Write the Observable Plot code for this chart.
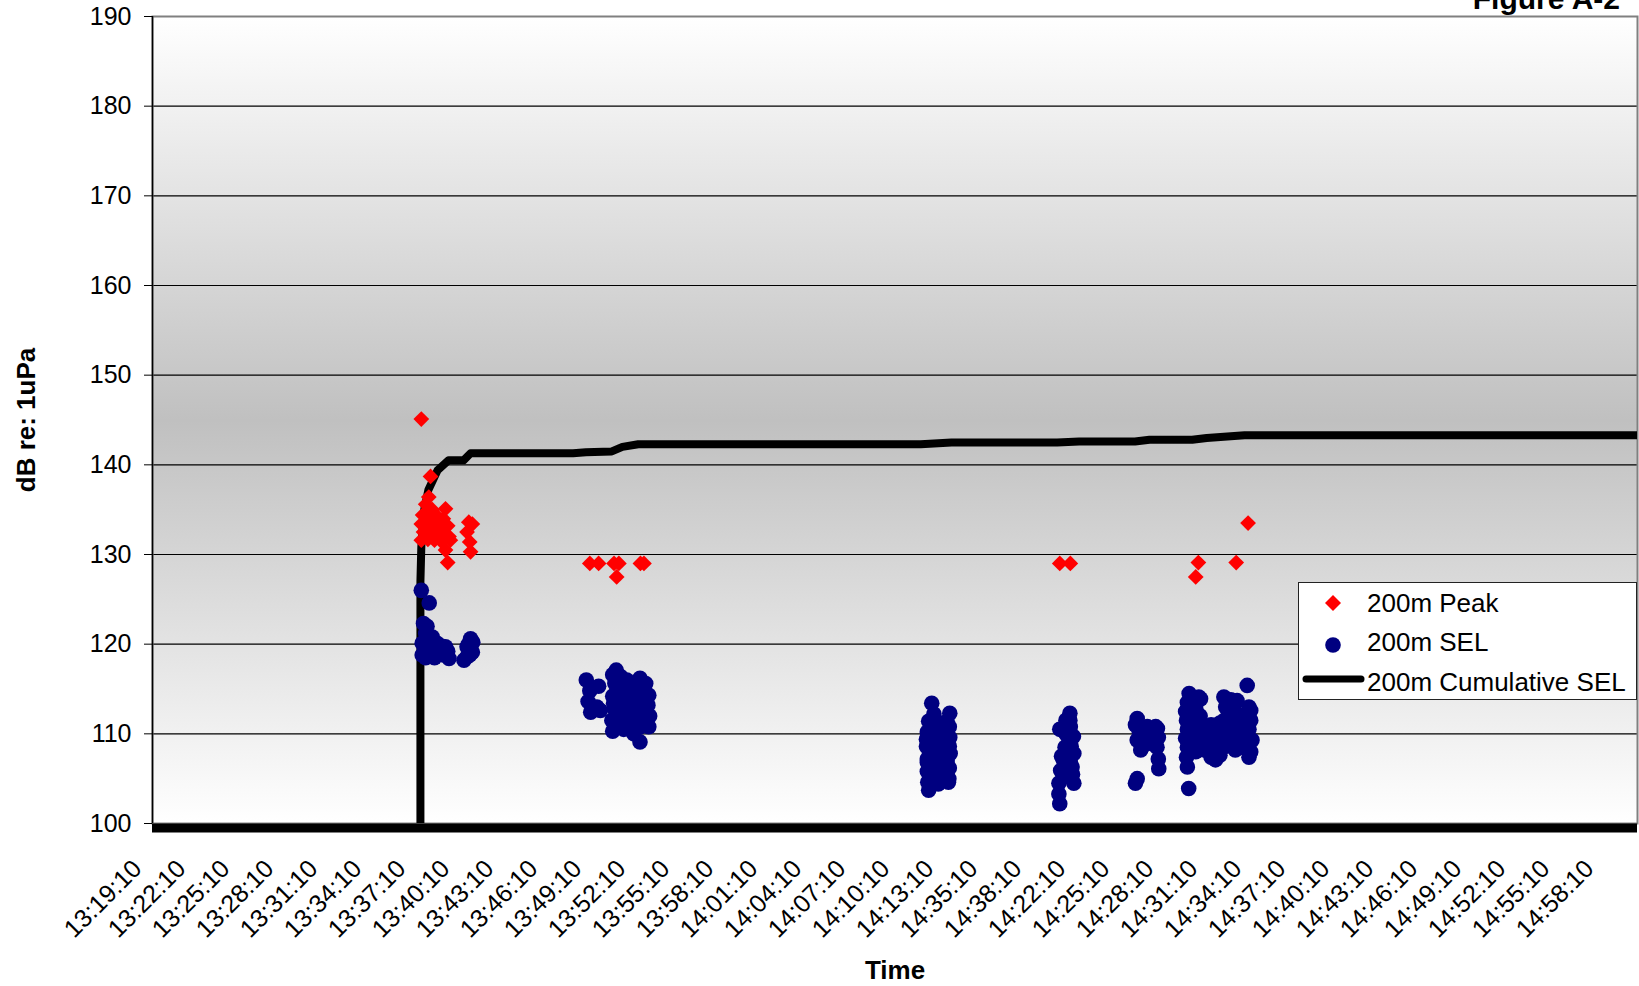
<!DOCTYPE html>
<html><head><meta charset="utf-8">
<script src="https://cdn.jsdelivr.net/npm/d3@7"></script>
<script src="https://cdn.jsdelivr.net/npm/@observablehq/plot@0.6"></script>
<style>
html,body{margin:0;padding:0;background:#fff;overflow:hidden}
#wrap{position:relative;width:1639px;height:986px;font-family:"Liberation Sans",Arial,sans-serif;overflow:hidden}
#fig{position:absolute;right:19px;top:-16px;font-weight:bold;font-size:30px;line-height:30px;white-space:nowrap}
#legend{position:absolute;left:1298px;top:582px;width:339px;height:118px}
</style></head><body><div id="wrap"><div id="fig">Figure A-2</div></div>
<script>
// x tick labels (category axis, every 3 minutes)
const tickLabels = ["13:19:10","13:22:10","13:25:10","13:28:10","13:31:10","13:34:10","13:37:10","13:40:10","13:43:10","13:46:10","13:49:10","13:52:10","13:55:10","13:58:10","14:01:10","14:04:10","14:07:10","14:10:10","14:13:10","14:35:10","14:38:10","14:22:10","14:25:10","14:28:10","14:31:10","14:34:10","14:37:10","14:40:10","14:43:10","14:46:10","14:49:10","14:52:10","14:55:10","14:58:10"];
const yTicks = [100,110,120,130,140,150,160,170,180,190];
const xDomain = [0.341, 34.09]; // in tick-label units

// 200m Peak (x in tick-label units, y in dB)
const peakX = [6.45,6.66,6.62,6.55,6.70,7.00,6.48,6.62,6.80,6.95,6.45,6.58,6.72,6.88,7.05,6.50,6.65,6.80,6.95,7.08,6.45,6.60,6.75,6.90,7.11,7.00,7.05,7.53,7.61,7.49,7.55,7.57,
  10.28,10.48,10.83,10.94,10.89,11.43,11.51,
  20.96,21.20,
  24.11,24.05,24.97,25.24];
const peakY = [145.1,138.7,136.4,135.6,135.0,135.1,134.4,134.2,134.3,134.0,133.4,133.2,133.3,133.4,133.2,132.5,132.3,132.4,132.2,132.0,131.6,131.7,131.6,131.5,131.6,130.5,129.1,133.6,133.4,132.5,131.4,130.3,
  129.0,129.0,129.0,129.0,127.5,129.0,129.0,
  129.0,129.0,
  129.1,127.5,129.1,133.5];

// 200m SEL
const selX = [
  6.45,6.63,6.50,6.58,6.55,6.70,6.47,6.62,6.81,6.90,7.00,6.47,6.60,6.66,6.75,6.89,7.08,6.95,6.55,6.75,7.05,
  7.57,7.52,7.49,7.49,7.61,7.42,7.55,7.62,
  10.20,10.28,10.24,10.30,10.44,10.48,10.52,
  10.80,10.88,10.85,10.80,10.84,10.78,10.80,
  10.98,11.02,11.00,11.05,10.98,
  11.12,11.18,11.14,11.20,11.16,
  11.28,11.30,11.26,11.28,11.32,
  11.42,11.45,11.40,11.44,11.43,11.42,
  11.56,11.60,11.64,11.62,11.55,
  10.90,10.92,11.05,11.10,11.35,11.35,11.50,11.50,11.62,11.20,10.92,10.82,
  18.05,18.46,17.98,18.10,18.40,18.20,17.95,18.08,18.30,18.46,17.93,18.15,18.35,18.47,17.95,18.10,18.28,18.45,17.95,18.12,18.30,18.44,17.96,17.98,18.20,18.43,18.40,18.25,17.93,18.15,
  18.25,18.10,18.35,18.00,18.20,18.45,18.00,18.25,18.40,18.10,18.30,18.05,18.20,18.45,17.95,
  21.19,21.19,20.96,21.27,21.08,21.28,21.04,21.24,20.98,21.28,20.94,20.94,20.96,21.13,21.17,
  21.20,21.10,21.20,21.00,21.05,21.25,21.10,21.22,
  22.72,22.68,22.72,22.80,22.98,23.14,23.17,23.21,22.72,22.68,22.85,23.05,23.20,23.10,23.20,22.90,22.76,23.18,
  22.95,23.05,22.85,
  23.90,23.86,23.82,23.84,23.86,23.82,23.86,23.84,23.86,23.89,
  24.12,24.16,24.05,24.15,24.10,24.20,24.05,24.15,24.05,24.20,
  24.30,24.40,24.46,24.35,24.46,24.40,24.50,24.56,24.60,
  24.69,24.73,24.70,24.80,24.75,24.85,24.72,24.95,24.99,24.92,24.98,24.88,
  25.22,25.26,25.15,25.30,25.26,25.33,25.20,25.26,25.10,25.15,
  23.95,23.95,23.95,24.00,24.30,24.40,24.55,24.60,24.80,24.85,25.00,25.05,25.10,25.30,25.30,24.25,24.60];
const selY = [
  126.0,124.6,122.3,122.0,121.2,120.8,120.1,120.3,120.1,119.8,119.7,118.8,119.2,119.7,119.3,119.1,118.4,118.8,118.5,118.5,119.2,
  120.6,120.0,119.7,118.6,119.1,118.2,118.8,120.2,
  116.0,114.8,113.6,112.4,113.0,115.3,112.6,
  116.6,117.1,115.6,114.2,112.8,111.5,110.3,
  116.4,115.0,113.6,112.2,111.2,
  116.0,114.6,113.2,111.8,110.6,
  115.2,113.8,112.4,110.0,111.3,
  116.2,114.8,113.4,112.0,110.8,109.1,
  114.5,113.2,112.0,110.8,115.6,
  113.5,112.0,110.5,114.0,112.8,115.8,111.5,113.8,114.3,115.5,116.0,113.4,
  113.4,112.3,111.4,112.2,111.4,110.8,110.2,109.6,110.0,109.6,108.6,108.8,108.4,107.8,107.2,107.0,107.2,106.2,105.8,105.6,105.6,105.0,104.6,103.7,104.4,104.6,107.0,109.0,109.4,106.2,
  111.2,110.6,109.8,108.0,107.8,108.6,106.5,106.0,105.8,104.8,104.8,109.0,110.0,110.8,106.8,
  112.3,111.5,110.5,109.7,108.5,107.8,107.1,106.3,105.9,104.5,104.5,103.3,102.2,107.8,109.3,
  110.8,110.0,106.8,107.5,105.2,105.5,111.5,108.6,
  111.7,111.0,109.3,108.2,109.7,110.8,108.5,106.1,105.0,104.5,110.5,110.2,109.6,108.8,107.2,108.8,110.4,110.6,
  110.8,109.0,109.5,
  114.5,113.5,112.5,111.5,110.5,109.5,108.5,107.4,106.3,103.9,
  114.1,113.9,112.8,112.0,111.0,110.4,109.8,109.0,108.0,108.6,
  110.6,111.0,109.8,109.0,108.3,107.4,107.1,108.6,110.2,
  114.1,113.0,111.5,112.4,110.2,109.2,108.6,108.2,113.7,111.0,109.8,113.2,
  115.4,113.0,112.0,111.5,110.5,109.3,108.4,107.4,110.6,109.0,
  112.0,110.0,108.0,114.0,109.8,110.2,109.5,111.2,111.0,113.8,112.2,110.5,108.5,112.6,108.0,108.2,107.6];

// 200m Cumulative SEL (starts from below the axis minimum)
const cumX = [6.43,6.43,6.45,6.50,6.61,6.82,7.07,7.41,7.57,9.90,10.19,10.78,11.02,11.38,17.80,18.50,20.90,21.40,22.67,23.00,23.97,24.30,25.16,34.14];
const cumY = [0,127.0,130.8,134.6,137.2,139.4,140.5,140.5,141.3,141.3,141.4,141.5,142.0,142.3,142.3,142.5,142.5,142.6,142.6,142.8,142.8,143.0,143.3,143.3];

const peak = peakX.map((x, i) => ({x, y: peakY[i]}));
const sel = selX.map((x, i) => ({x, y: selY[i]}));
const cum = cumX.map((x, i) => ({x, y: cumY[i]}));

const font = "Liberation Sans, Arial, Helvetica, sans-serif";
const plot = Plot.plot({
  width: 1639, height: 986,
  marginTop: 16, marginLeft: 152, marginRight: 2, marginBottom: 163,
  x: {domain: xDomain, axis: null},
  y: {domain: [100, 190], axis: null},
  style: {fontFamily: font, background: "transparent", overflow: "visible", color: "#000"},
  marks: [
    Plot.frame({fill: "url(#bg)", stroke: "none"}),
    Plot.gridY(yTicks, {stroke: "#000", strokeOpacity: 1, strokeWidth: 1.2}),
    Plot.frame({stroke: "#808080", strokeWidth: 2}),
    Plot.ruleX([xDomain[0]], {stroke: "#000", strokeWidth: 1.5}),
    Plot.axisY(yTicks, {label: null, tickSize: 8, tickPadding: 13, fontSize: 25, stroke: "#000", fill: "#000"}),
    Plot.line(cum, {x: "x", y: "y", stroke: "#000", strokeWidth: 8, clip: true, curve: "linear"}),
    Plot.dot(peak, {x: "x", y: "y", symbol: "diamond2", fill: "#ff0000", stroke: "none", r: 7.1}),
    Plot.dot(sel, {x: "x", y: "y", fill: "#000080", stroke: "none", r: 7.8}),
    Plot.ruleY([100], {stroke: "#000", strokeWidth: 9, dy: 4.5}),
    Plot.text(tickLabels, {x: (d, i) => i, frameAnchor: "bottom", dy: 41, rotate: -45, textAnchor: "end", lineAnchor: "middle", fontSize: 25, fill: "#000"}),
    Plot.text(["dB re: 1uPa"], {frameAnchor: "left", dx: -126, rotate: -90, textAnchor: "middle", lineAnchor: "middle", fontWeight: "bold", fontSize: 26, fill: "#000"}),
    Plot.text(["Time"], {frameAnchor: "bottom", dy: 155, textAnchor: "middle", fontWeight: "bold", fontSize: 26, fill: "#000"})
  ]
});

const ns = "http://www.w3.org/2000/svg";
const defs = document.createElementNS(ns, "defs");
defs.innerHTML = '<linearGradient id="bg" x1="0" y1="0" x2="0" y2="1">' +
  '<stop offset="0" stop-color="#ffffff"/><stop offset="0.5" stop-color="#c0c0c0"/><stop offset="1" stop-color="#ffffff"/></linearGradient>';
plot.insertBefore(defs, plot.firstChild);
plot.style.position = "absolute"; plot.style.left = "0"; plot.style.top = "0";
const wrap = document.getElementById("wrap");
wrap.insertBefore(plot, wrap.firstChild);

// legend
const legendItems = ["200m Peak", "200m SEL", "200m Cumulative SEL"];
const leg = document.createElement("div");
leg.id = "legend";
leg.innerHTML = `<svg width="339" height="118" style="font-family:${font}">
  <rect x="0.5" y="0.5" width="338" height="117" fill="#fff" stroke="#222" stroke-width="1"/>
  <path d="M35,13 L43,21 L35,29 L27,21 Z" fill="#ff0000"/>
  <circle cx="35" cy="63" r="7.8" fill="#000080"/>
  <line x1="8" y1="97" x2="63" y2="97" stroke="#000" stroke-width="7" stroke-linecap="round"/>
  <text x="69" y="30" font-size="26">${legendItems[0]}</text>
  <text x="69" y="69" font-size="26">${legendItems[1]}</text>
  <text x="69" y="109" font-size="26">${legendItems[2]}</text>
</svg>`;
wrap.appendChild(leg);
</script>
</body></html>
